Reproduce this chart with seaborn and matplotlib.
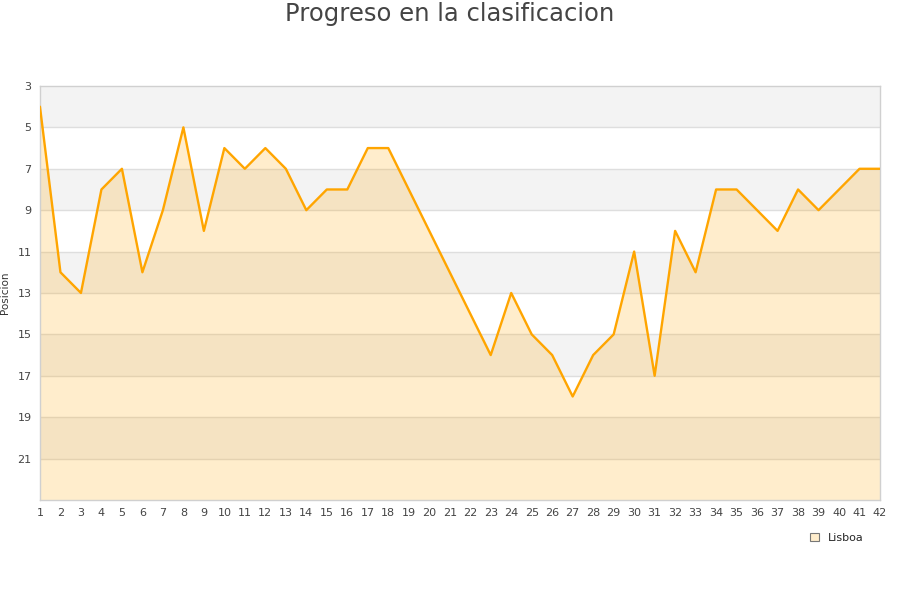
#!/usr/bin/env python3
import pandas as pd
import matplotlib.pyplot as plt
import seaborn as sns
from matplotlib.patches import Patch

jornadas = list(range(1, 43))
posicion = [4, 12, 13, 8, 7, 12, 9, 5, 10, 6, 7, 6, 7, 9, 8, 8, 6, 6, 8, 10,
            12, 14, 16, 13, 15, 16, 18, 16, 15, 11, 17, 10, 12, 8, 8, 9, 10, 8,
            9, 8, 7, 7]
equipo = 'Lisboa'

df = pd.DataFrame({'Jornada': jornadas, 'Posicion': posicion})

sns.set_style('white')
fig = plt.figure(figsize=(9, 6), dpi=100)
ax = fig.add_axes([0.0444, 0.1667, 0.9334, 0.69])

# alternating bands
for i, lo in enumerate(range(3, 23, 2)):
    ax.axhspan(lo, lo + 2, color='#f3f3f3' if i % 2 == 0 else 'white', zorder=0, lw=0)
for y in range(5, 23, 2):
    ax.axhline(y, color='#dedede', lw=1, zorder=1)

ax.fill_between(df['Jornada'], df['Posicion'], 23, color='#FFA500', alpha=0.2, lw=0, zorder=2)
sns.lineplot(x='Jornada', y='Posicion', data=df, color='#FFA500', lw=1.7, ax=ax, zorder=3)

ax.set_xlim(1, 42)
ax.set_ylim(23, 3)
ax.set_xticks(jornadas)
ax.set_yticks(range(3, 23, 2))
ax.tick_params(axis='both', length=0, labelsize=8, colors='#444444', pad=6)
ax.set_xlabel('')
ax.set_ylabel('Posicion', fontsize=7.5, color='#333333')
ax.yaxis.set_label_coords(-0.036, 0.5)
for s in ax.spines.values():
    s.set_color('#d0d0d0')
    s.set_linewidth(1)

fig.suptitle('Progreso en la clasificacion', fontsize=17.5, color='#444444', y=0.997)

handle = Patch(facecolor='#FFEDCC', edgecolor='#777777', lw=0.8)
fig.legend([handle], [equipo], loc='center', bbox_to_anchor=(0.93, 0.104), frameon=False,
           fontsize=8, handlelength=0.8, handleheight=0.8, handletextpad=0.8)

fig.savefig('out.png', dpi=100)
